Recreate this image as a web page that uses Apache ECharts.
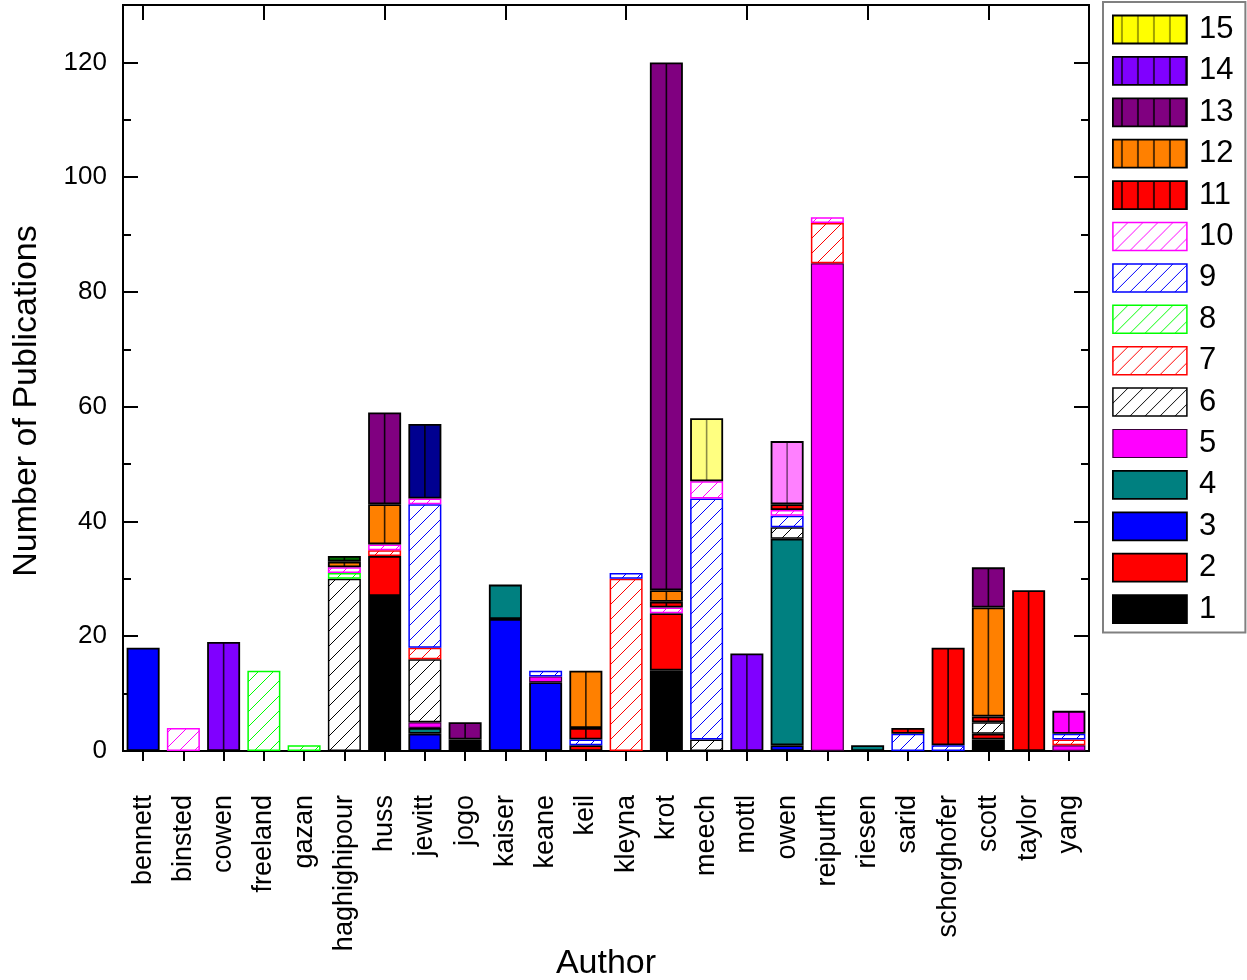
<!DOCTYPE html>
<html><head><meta charset="utf-8">
<script src="https://cdn.jsdelivr.net/npm/echarts@6/dist/echarts.min.js"></script>
<style>html,body{margin:0;padding:0;background:#fff}#c{width:1247px;height:980px}</style>
</head><body><div id="c"></div>
<script>
// ---------- data ----------
const categories = ['bennett','binsted','cowen','freeland','gazan','haghighipour','huss','jewitt','jogo','kaiser','keane','keil','kleyna','krot','meech','mottl','owen','reipurth','riesen','sarid','schorghofer','scott','taylor','yang'];
const s1  = [0,0,0,0,0,0,27,0,2,0,0,0,0,14,0,0,0,0,0,0,0,2,0,0];
const s2  = [0,0,0,0,0,0,7,0,0,0,0,1,0,10,0,0,0,0,0,0,0,1,0,0];
const s3  = [18,0,0,0,0,0,0,3,0,23,12,0,0,0,0,0,1,0,0,0,0,0,0,0];
const s4  = [0,0,0,0,0,0,0,1,0,6,0,0,0,0,0,0,36,0,1,0,0,0,0,0];
const s5  = [0,0,0,0,0,0,0,1,0,0,1,0,0,0,0,0,0,85,0,0,0,0,0,1];
const s6  = [0,0,0,0,0,30,0,11,0,0,0,0,0,0,2,0,2,0,0,0,0,2,0,0];
const s7  = [0,0,0,0,0,0,1,2,0,0,0,0,30,0,0,0,0,7,0,0,0,0,0,1];
const s8  = [0,0,0,14,1,1,0,0,0,0,0,0,0,0,0,0,0,0,0,0,0,0,0,0];
const s9  = [0,0,0,0,0,0,0,25,0,0,1,1,1,0,42,0,2,0,0,3,1,0,0,1];
const s10 = [0,4,0,0,0,1,1,1,0,0,0,0,0,1,3,0,1,1,0,0,0,0,0,0];
const s11 = [0,0,0,0,0,0,0,0,0,0,0,2,0,1,0,0,1,0,0,1,17,1,28,0];
const s12 = [0,0,0,0,0,1,7,0,0,0,0,10,0,2,0,0,0,0,0,0,0,19,0,0];
const s13 = [0,0,0,0,0,0,16,0,3,0,0,0,0,92,0,0,0,0,0,0,0,7,0,0];
const s14 = [0,0,19,0,0,0,0,0,0,0,0,0,0,0,0,17,0,0,0,0,0,0,0,0];
const s15 = [0,0,0,0,0,0,0,0,0,0,0,0,0,0,0,0,0,0,0,0,0,0,0,0];
const s16 = [0,0,0,0,0,1,0,0,0,0,0,0,0,0,0,0,0,0,0,0,0,0,0,0];
const s17 = [0,0,0,0,0,0,0,13,0,0,0,0,0,0,0,0,0,0,0,0,0,0,0,0];
const s18 = [0,0,0,0,0,0,0,0,0,0,0,0,0,0,11,0,0,0,0,0,0,0,0,0];
const s19 = [0,0,0,0,0,0,0,0,0,0,0,0,0,0,0,0,11,0,0,0,0,0,0,0];
const s20 = [0,0,0,0,0,0,0,0,0,0,0,0,0,0,0,0,0,0,0,0,0,0,0,4];
const seriesNames = ['1','2','3','4','5','6','7','8','9','10','11','12','13','14','15','16','17','18','19','20'];
const seriesValues = [s1,s2,s3,s4,s5,s6,s7,s8,s9,s10,s11,s12,s13,s14,s15,s16,s17,s18,s19,s20];
const legendNames = ['15','14','13','12','11','10','9','8','7','6','5','4','3','2','1'];
const yTicks = {min:0, max:130, major:20, minor:10};

// ---------- layout / styles ----------
const GRID = {left:123, right:158, top:5, bottom:229};
const PLOT_W = 1247 - GRID.left - GRID.right;
const CAT_W = PLOT_W / categories.length;

function hatch(c){
  const cv=document.createElement('canvas');cv.width=15;cv.height=15;
  const g=cv.getContext('2d');g.fillStyle='#fff';g.fillRect(0,0,15,15);
  g.strokeStyle=c;g.lineWidth=1;g.beginPath();
  g.moveTo(-2,17);g.lineTo(17,-2);g.moveTo(-2,2);g.lineTo(2,-2);g.moveTo(13,17);g.lineTo(17,13);
  g.stroke();return {image:cv,repeat:'repeat'};
}
function vlines(c, lc){
  const W=Math.round(CAT_W*4);const cv=document.createElement('canvas');cv.width=W;cv.height=4;
  const g=cv.getContext('2d');g.fillStyle=c;g.fillRect(0,0,W,4);g.fillStyle=lc;
  for(let k=0;k<4;k++){const x=(GRID.left+CAT_W*(k+0.5))%W;g.fillRect(x-0.8,0,1.6,4);}
  return {image:cv,repeat:'repeat'};
}
function legendLines(c, lc){
  const cv=document.createElement('canvas');cv.width=16;cv.height=4;
  const g=cv.getContext('2d');g.fillStyle=c;g.fillRect(0,0,16,4);g.fillStyle=lc;g.fillRect(8.2,0,1.6,4);
  return {image:cv,repeat:'repeat'};
}
const fills = [
  ['#000000','#000',1.8,'solid'],
  ['#ff0000','#000',1.8,'solid'],
  ['#0000ff','#000',1.8,'solid'],
  ['#008080','#000',1.8,'solid'],
  ['#ff00ff','#3a003a',1.2,'solid'],
  ['#000000','#000000',1.5,'hatch'],
  ['#ff0000','#ff0000',1.5,'hatch'],
  ['#00ff00','#00ff00',1.5,'hatch'],
  ['#0000ff','#0000ff',1.5,'hatch'],
  ['#ff00ff','#ff00ff',1.5,'hatch'],
  ['#ff0000','#000',1.8,'lines','rgba(0,0,0,0.9)'],
  ['#ff8000','#000',1.8,'lines','rgba(0,0,0,0.8)'],
  ['#800080','#000',1.8,'lines','rgba(0,0,0,0.9)'],
  ['#8000ff','#000',1.8,'lines','rgba(0,0,0,0.8)'],
  ['#ffff00','#000',1.8,'lines','rgba(0,0,0,0.45)'],
  ['#006b00','#000',1.8,'lines','rgba(0,0,0,0.9)'],
  ['#000090','#000',1.8,'lines','rgba(0,0,0,0.9)'],
  ['#ffff80','#000',1.8,'lines','rgba(0,0,0,0.45)'],
  ['#ff80ff','#000',1.8,'lines','rgba(0,0,0,0.5)'],
  ['#ff00ff','#000',1.8,'lines','rgba(0,0,0,0.7)']
];
function makeStyle(f, forLegend){
  let color = f[0];
  if (f[3]==='hatch') color = hatch(f[0]);
  else if (f[3]==='lines') color = forLegend ? legendLines(f[0], f[4]) : vlines(f[0], f[4]);
  return {color:color, borderColor:f[1], borderWidth:f[2]};
}
const FONT = "'Liberation Sans', Arial, sans-serif";

const series = seriesNames.map((n,i)=>({
  name:n, type:'bar', stack:'total', barWidth:33, xAxisIndex:0, yAxisIndex:0,
  data: seriesValues[i].map(v=> v===0 ? '-' : v),
  itemStyle: makeStyle(fills[i], false),
  emphasis:{disabled:true}
}));

const axisLine = {show:true, onZero:false, lineStyle:{color:'#000', width:2}};
function yAx(pos, interval, len, labels){
  return {type:'value', position:pos, min:yTicks.min, max:yTicks.max, interval:interval,
    axisLine:axisLine, splitLine:{show:false},
    axisTick:{show:true, inside:true, length:len, lineStyle:{color:'#000', width:2}},
    axisLabel: labels ? {show:true, fontSize:26, color:'#000', fontFamily:FONT, margin:16,
      formatter:v=> v>120 ? '' : String(v)} : {show:false}};
}

const chart = echarts.init(document.getElementById('c'), null, {renderer:'canvas'});
chart.setOption({
  animation:false,
  backgroundColor:'#fff',
  grid:{left:GRID.left, right:GRID.right, top:GRID.top, bottom:GRID.bottom, containLabel:false},
  xAxis:[
    {type:'category', data:categories, position:'bottom', axisLine:axisLine,
     axisTick:{show:true, alignWithLabel:true, inside:false, length:10, lineStyle:{color:'#000', width:2}},
     axisLabel:{rotate:90, fontSize:27, color:'#000', fontFamily:FONT, margin:44, interval:0},
     splitLine:{show:false}},
    {type:'category', data:categories, position:'top', axisLine:axisLine,
     axisTick:{show:true, alignWithLabel:true, inside:true, length:15, lineStyle:{color:'#000', width:2}},
     axisLabel:{show:false}, splitLine:{show:false}}
  ],
  yAxis:[ yAx('left', yTicks.major, 15, true), yAx('left', yTicks.minor, 8, false),
          yAx('right', yTicks.major, 15, false), yAx('right', yTicks.minor, 8, false) ],
  legend:{
    orient:'vertical', left:1103, top:2, padding:[12,12,8,9], itemWidth:74, itemHeight:28, itemGap:10.4,
    borderColor:'#808080', borderWidth:2, backgroundColor:'#fff', selectedMode:false,
    textStyle:{fontSize:31, lineHeight:28, color:'#000', fontFamily:FONT, padding:[0,0,0,7]},
    data: legendNames.map(n=>({name:n, icon:'rect', itemStyle:makeStyle(fills[+n-1], true)}))
  },
  graphic:[
    {type:'text', x:27, y:401, rotation:Math.PI/2,
     style:{text:'Number of Publications', fontSize:34, fontFamily:FONT, fill:'#000', align:'center', verticalAlign:'middle'}},
    {type:'text', x:606, y:964,
     style:{text:'Author', fontSize:34, fontFamily:FONT, fill:'#000', align:'center', verticalAlign:'middle'}}
  ],
  series:series
});
</script></body></html>
